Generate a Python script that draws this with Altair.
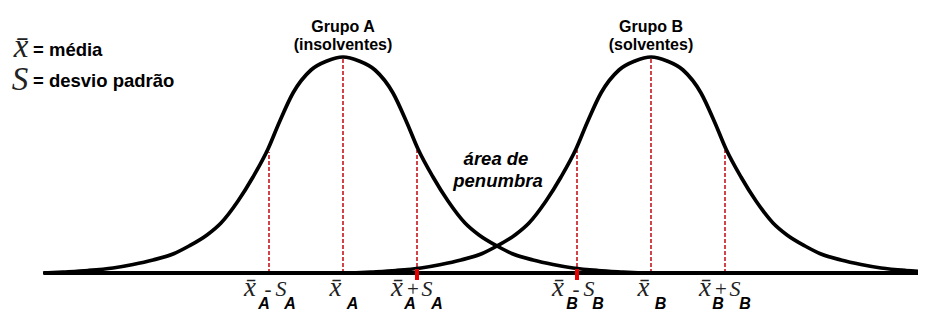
import altair as alt
import pandas as pd

# ---------------- data ----------------
groups = ["A", "B"]
group_means = [343, 651]          # position of each group's mean on the axis
group_sd = 74                     # standard deviation (same for both groups)
# half-profile of each bell curve: distance from the mean -> height above the axis
profile_dx = [0, 16, 32, 50, 64, 75, 90, 105, 122, 136, 154, 170, 190, 210, 230, 255, 280, 300]
profile_h = [216, 212, 203, 180, 150, 124, 96, 72, 50, 38, 27, 19, 13, 8.5, 5, 2.5, 1, 0]
# heights of the dashed guide lines at mean-sd, mean, mean+sd (A then B)
marker_h = [121, 216, 123, 123, 216, 123]
group_titles = ["Grupo A", "Grupo B"]
group_subtitles = ["(insolventes)", "(solventes)"]
overlap_text = ["área de", "penumbra"]
legend_symbols = ["x\u0304", "S"]
legend_texts = ["= média", "= desvio padrão"]
axis_start, axis_end = 44, 926

# ---------------- tables built from the data ----------------
curve_rows = []
for g, m in zip(groups, group_means):
    for dx, h in zip(profile_dx, profile_h):
        curve_rows.append({"g": g, "x": m - dx, "h": h})
        if dx:
            curve_rows.append({"g": g, "x": m + dx, "h": h})
curves = pd.DataFrame(curve_rows).sort_values(["g", "x"])

marker_rows = []
kinds = ["minus", "mean", "plus"]
i = 0
for g, m in zip(groups, group_means):
    for k, off in zip(kinds, [-group_sd, 0, group_sd]):
        marker_rows.append({"g": g, "kind": k, "x": m + off, "h": marker_h[i], "zero": 0})
        i += 1
markers = pd.DataFrame(marker_rows)

# label pieces (layout offsets relative to each marker)
layout = {
    "minus": [("x\u0304", -19, "xbar"), ("-", -1, "op"), ("S", 12, "s"), ("G", -5, "sub"), ("G", 21, "sub")],
    "mean": [("x\u0304", -7.5, "xbar"), ("G", 9.5, "sub")],
    "plus": [("x\u0304", -20, "xbar"), ("+", -4, "op"), ("S", 10, "s"), ("G", -7, "sub"), ("G", 20, "sub")],
}
piece_rows = []
for r in marker_rows:
    for txt, off, cls in layout[r["kind"]]:
        piece_rows.append({
            "x": r["x"] + off,
            "y": -36 if cls == "sub" else -23,
            "t": r["g"] if txt == "G" else txt,
            "cls": cls,
        })
pieces = pd.DataFrame(piece_rows)

titles = pd.DataFrame({
    "x": group_means * 2,
    "y": [241, 241, 223, 223],
    "t": group_titles + group_subtitles,
})
overlap = pd.DataFrame({"x": [496, 498], "y": [108, 86], "t": overlap_text})
leg_sym = pd.DataFrame({"x": [21, 20], "y": [216, 183], "t": legend_symbols})
leg_txt = pd.DataFrame({"x": [33, 33], "y": [217, 186], "t": legend_texts})
axis_df = pd.DataFrame({"x": [axis_start], "x2": [axis_end], "y": [0]})
edge_df = markers[((markers.g == "A") & (markers.kind == "plus")) |
                  ((markers.g == "B") & (markers.kind == "minus"))].copy()
edge_df["top"] = 4
edge_df["bot"] = -7

# ---------------- chart ----------------
xs = alt.Scale(domain=[8, 918], nice=False, zero=False)
ys = alt.Scale(domain=[-39, 265], nice=False, zero=False)
X = lambda f: alt.X(f"{f}:Q", scale=xs, axis=None)
Y = lambda f: alt.Y(f"{f}:Q", scale=ys, axis=None)

RED = "#c8161d"

dashed = alt.Chart(markers).mark_rule(color=RED, strokeWidth=1.6, strokeDash=[4, 2]).encode(
    x=X("x"), y=Y("zero"), y2="h:Q")
edges = alt.Chart(edge_df).mark_rule(color="#e60000", strokeWidth=4).encode(
    x=X("x"), y=Y("top"), y2="bot:Q")
lines = alt.Chart(curves).mark_line(color="black", strokeWidth=3.7, interpolate="monotone", clip=True).encode(
    x=X("x"), y=Y("h"), detail="g:N", order="x:Q")
axis_line = alt.Chart(axis_df).mark_rule(color="black", strokeWidth=4).encode(
    x=X("x"), x2="x2:Q", y=Y("y"))

def text_layer(df, color="black", **kw):
    return alt.Chart(df).mark_text(baseline="alphabetic", color=color, **kw).encode(
        x=X("x"), y=Y("y"), text="t:N")

t_titles = text_layer(titles, font="Liberation Sans", fontSize=16, fontWeight="bold", align="center")
t_overlap = text_layer(overlap, font="Liberation Sans", fontSize=18.5, fontWeight="bold",
                       fontStyle="italic", align="center")
t_legsym = text_layer(leg_sym, font="Liberation Serif", fontSize=33, fontStyle="italic", align="center",
                      color="#222222")
t_legtxt = text_layer(leg_txt, font="Liberation Sans", fontSize=18.5, fontWeight="bold", align="left")
t_xbar = text_layer(pieces[pieces.cls == "xbar"], font="Liberation Serif", fontSize=27,
                    fontStyle="italic", align="center", color="#222222")
t_s = text_layer(pieces[pieces.cls == "s"], font="Liberation Serif", fontSize=22,
                 fontStyle="italic", align="center", color="#222222")
t_op = text_layer(pieces[pieces.cls == "op"], font="Liberation Serif", fontSize=21, align="center",
                  color="#222222")
t_sub = text_layer(pieces[pieces.cls == "sub"], font="Liberation Sans", fontSize=16, fontWeight="bold",
                   fontStyle="italic", align="center")

chart = alt.layer(
    dashed, lines, axis_line, edges,
    t_titles, t_overlap, t_legsym, t_legtxt, t_xbar, t_s, t_op, t_sub,
).properties(
    width=910, height=304, padding=0, autosize="none", background="white"
).configure_view(stroke=None)

chart.save("out.html", embed_options={"renderer": "svg", "actions": False})
